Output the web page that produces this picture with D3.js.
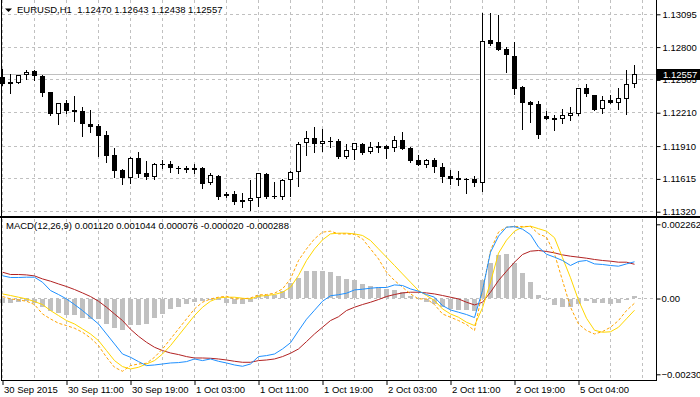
<!DOCTYPE html>
<html>
<head>
<meta charset="utf-8">
<script src="https://cdn.jsdelivr.net/npm/d3@7"></script>
<style>
  body { margin: 0; background: #fff; }
  svg { display: block; font-family: "Liberation Sans", Arial, sans-serif; font-size: 9.5px; }
</style>
</head>
<body>
<script>
// EURUSD H1 candles, one per hour
const opens  = [1.12531,1.12466,1.12480,1.12547,1.12585,1.12543,1.12394,1.12196,1.12298,1.12235,
  1.12226,1.12109,1.12091,1.12010,1.11830,1.11695,1.11626,1.11800,1.11666,1.11635,
  1.11747,1.11747,1.11715,1.11716,1.11693,1.11710,1.11576,1.11641,1.11459,1.11477,
  1.11426,1.11414,1.11441,1.11659,1.11462,1.11455,1.11603,1.11675,1.11935,1.11980,
  1.11926,1.11956,1.11956,1.11815,1.11872,1.11929,1.11854,1.11911,1.11911,1.11890,
  1.11965,1.11893,1.11785,1.11743,1.11785,1.11722,1.11641,1.11620,1.11612,1.11614,
  1.11576,1.12864,1.12843,1.12783,1.12720,1.12442,1.12307,1.12286,1.12183,1.12165,
  1.12151,1.12178,1.12201,1.12432,1.12373,1.12246,1.12325,1.12300,1.12336,1.12470];
const highs  = [1.12603,1.12558,1.12550,1.12592,1.12594,1.12552,1.12397,1.12300,1.12325,1.12361,
  1.12262,1.12235,1.12106,1.12046,1.11893,1.11707,1.11809,1.11857,1.11776,1.11761,
  1.11785,1.11776,1.11729,1.11731,1.11747,1.11725,1.11666,1.11648,1.11500,1.11507,
  1.11489,1.11605,1.11671,1.11666,1.11587,1.11617,1.11684,1.11944,1.12046,1.12079,
  1.12064,1.11995,1.11977,1.11926,1.11941,1.11935,1.11947,1.11947,1.11917,1.12001,
  1.12040,1.11899,1.11830,1.11797,1.11806,1.11756,1.11695,1.11686,1.11620,1.11641,
  1.13109,1.13109,1.13089,1.12798,1.12846,1.12448,1.12316,1.12316,1.12226,1.12187,
  1.12244,1.12262,1.12432,1.12468,1.12373,1.12361,1.12373,1.12432,1.12594,1.12643];
const lows   = [1.12459,1.12390,1.12477,1.12511,1.12500,1.12361,1.12194,1.12112,1.12210,1.12136,
  1.12004,1.12040,1.11824,1.11770,1.11635,1.11567,1.11576,1.11635,1.11614,1.11612,
  1.11716,1.11680,1.11671,1.11675,1.11666,1.11536,1.11570,1.11437,1.11450,1.11387,
  1.11360,1.11336,1.11372,1.11440,1.11441,1.11432,1.11462,1.11554,1.11833,1.11860,
  1.11869,1.11905,1.11806,1.11806,1.11792,1.11842,1.11851,1.11860,1.11806,1.11869,
  1.11881,1.11767,1.11743,1.11725,1.11677,1.11590,1.11567,1.11560,1.11491,1.11554,
  1.11509,1.12819,1.12774,1.12579,1.12381,1.12067,1.12127,1.11986,1.12151,1.12055,
  1.12118,1.12145,1.12190,1.12361,1.12237,1.12208,1.12295,1.12244,1.12202,1.12438];
const closes = [1.12468,1.12486,1.12547,1.12574,1.12536,1.12390,1.12196,1.12298,1.12228,1.12219,
  1.12112,1.12085,1.12004,1.11821,1.11689,1.11626,1.11803,1.11659,1.11635,1.11747,
  1.11746,1.11716,1.11713,1.11693,1.11716,1.11572,1.11648,1.11453,1.11480,1.11410,
  1.11410,1.11444,1.11666,1.11455,1.11453,1.11605,1.11675,1.11929,1.11980,1.11926,
  1.11956,1.11957,1.11815,1.11875,1.11935,1.11851,1.11902,1.11896,1.11887,1.11965,
  1.11887,1.11776,1.11743,1.11785,1.11725,1.11635,1.11614,1.11605,1.11611,1.11576,
  1.12858,1.12831,1.12777,1.12726,1.12426,1.12300,1.12282,1.12013,1.12157,1.12142,
  1.12187,1.12205,1.12432,1.12381,1.12237,1.12325,1.12300,1.12340,1.12466,1.12557];

// MACD window buffers
const macdMain = [0.000695,0.000641,0.000641,0.00065,0.00065,0.000497,0.000244,0.000122,-0.000012,-0.000183,
  -0.000366,-0.00057,-0.000775,-0.00108,-0.001385,-0.00169,-0.00179,-0.001922,-0.002044,-0.002025,
  -0.001995,-0.001964,-0.001952,-0.001922,-0.001842,-0.001891,-0.001842,-0.001912,-0.001964,-0.002025,
  -0.002065,-0.001995,-0.001769,-0.001739,-0.00169,-0.001537,-0.001348,-0.000982,-0.000631,-0.000357,
  -0.000082,0.000085,0.000116,0.000162,0.000262,0.000284,0.000314,0.000336,0.000336,0.000415,
  0.000397,0.000293,0.000223,0.000122,0.00004,-0.000214,-0.000348,-0.000418,-0.000488,-0.00058,
  0.000253,0.001412,0.0019,0.002175,0.00219,0.002114,0.001946,0.001565,0.001351,0.00126,
  0.001159,0.001007,0.001129,0.001159,0.001055,0.001037,0.001007,0.000985,0.001055,0.00112];
const macdSignal = [0.000802,0.000732,0.000732,0.00072,0.000689,0.000598,0.000528,0.000445,0.000366,0.000275,
  0.000171,0.000061,-0.000082,-0.000265,-0.00047,-0.000671,-0.000936,-0.00115,-0.001333,-0.001485,
  -0.001586,-0.001659,-0.001708,-0.001769,-0.001812,-0.001812,-0.001821,-0.001842,-0.001873,-0.001912,
  -0.001943,-0.001943,-0.001891,-0.001873,-0.001842,-0.001769,-0.001668,-0.001537,-0.001312,-0.00108,
  -0.000875,-0.000671,-0.000555,-0.000366,-0.000265,-0.000183,-0.000113,-0.000031,0.000061,0.000122,
  0.000171,0.000192,0.000192,0.000171,0.00014,0.000092,0.00004,-0.000012,-0.000113,-0.000195,
  -0.000113,0.000192,0.000549,0.000833,0.001107,0.001342,0.001443,0.001464,0.001434,0.001391,
  0.00133,0.00129,0.00126,0.001229,0.00119,0.001159,0.001138,0.001107,0.001107,0.001044];
const macdHist = [-0.000122,-0.000122,-0.000092,-0.000061,-0.000122,-0.000244,-0.000366,-0.000427,-0.000488,-0.000503,
  -0.00058,-0.00061,-0.000625,-0.000763,-0.000885,-0.000961,-0.000808,-0.000793,-0.000763,-0.00058,
  -0.000473,-0.00032,-0.000244,-0.000168,-0.000092,-0.000061,-0.000046,-0.000031,-0.000143,-0.000168,
  -0.000168,-0.000092,0.000122,0.000122,0.000122,0.000244,0.000458,0.000625,0.000824,0.000839,
  0.000839,0.000802,0.000686,0.000589,0.000558,0.000436,0.000375,0.000345,0.000293,0.000262,
  0.000192,0.00007,0.00002,-0.000113,-0.000165,-0.000265,-0.000317,-0.000348,-0.000348,-0.000366,
  0.000567,0.001077,0.001312,0.00136,0.001086,0.000772,0.000497,0.00011,-0.000046,-0.000195,
  -0.000265,-0.000265,-0.000165,-0.000061,-0.000134,-0.000134,-0.000165,-0.000134,-0.000043,0.000076];
const goldLine = [0.00014,0.000092,0.00004,-0.000012,-0.000092,-0.000183,-0.000366,-0.000519,-0.000671,-0.000775,
  -0.000927,-0.00108,-0.001281,-0.001586,-0.001891,-0.002074,-0.002147,-0.002095,-0.001995,-0.001891,
  -0.00169,-0.001434,-0.001129,-0.000824,-0.000519,-0.000265,-0.000082,0.000018,0.00004,0.00004,
  0.000009,-0.000012,0.00007,0.000092,0.000122,0.000192,0.000345,0.000702,0.001159,0.001513,
  0.001787,0.00197,0.001992,0.001992,0.00197,0.001922,0.001769,0.001513,0.00126,0.001007,
  0.00075,0.000497,0.000244,0.000092,-0.000061,-0.000317,-0.00047,-0.00057,-0.000723,-0.000824,
  -0.000281,0.000497,0.001382,0.001778,0.002053,0.002175,0.002205,0.002129,0.002053,0.001854,
  0.001244,0.000634,-0.000052,-0.000601,-0.000967,-0.001028,-0.001013,-0.000875,-0.000616,-0.000357];
const dashLine = [0.000061,-0.000012,-0.000043,-0.000082,-0.000183,-0.00047,-0.000622,-0.000753,-0.000824,-0.000906,
  -0.001028,-0.001202,-0.001434,-0.00179,-0.002095,-0.002217,-0.002044,-0.001995,-0.001973,-0.00179,
  -0.001537,-0.001232,-0.000927,-0.000622,-0.000317,-0.000113,-0.000012,0.00004,0.00007,-0.000012,
  -0.000012,0.000018,0.00011,0.000122,0.000162,0.000293,0.000598,0.001159,0.001513,0.001818,
  0.002022,0.002053,0.00197,0.00197,0.001952,0.001818,0.001513,0.001208,0.000802,0.000549,
  0.000345,0.00014,-0.000012,-0.000012,-0.000183,-0.00047,-0.00057,-0.000671,-0.000793,-0.000976,
  0.000244,0.001464,0.002022,0.002175,0.002196,0.002196,0.002196,0.00197,0.00187,0.00136,
  0.000549,-0.000265,-0.000775,-0.000976,-0.00108,-0.001007,-0.000875,-0.000671,-0.000366,-0.000143];
const macdHeaderVals = [0.001120, 0.001044, 0.000076, -0.000020, -0.000288];

const priceTicks = [1.13095, 1.12800, 1.12505, 1.12210, 1.11910, 1.11615, 1.11320];
const macdTicks = [0.002262, 0, -0.002309];
const timeIdx = [0, 8, 16, 24, 32, 40, 48, 56, 64, 72];
const timeLabels = ["30 Sep 2015", "30 Sep 11:00", "30 Sep 19:00", "1 Oct 03:00", "1 Oct 11:00",
  "1 Oct 19:00", "2 Oct 03:00", "2 Oct 11:00", "2 Oct 19:00", "5 Oct 04:00"];

const W = 700, H = 397;
const axisX = 656.5;
const gridCol = "#c0c0c0";

const svg = d3.select("body").append("svg").attr("width", W).attr("height", H);

// scales
const x = d3.scaleLinear().domain([0, 80]).range([2.5, 642.5]);
const yP = d3.scaleLinear().domain([1.11320, 1.13095]).range([211.7, 14.3]);
const yM = d3.scaleLinear().domain([-0.002309, 0.002262]).range([374.3, 224.3]);
const px = v => Math.floor(v) + 0.5;

// grid: vertical every 4 bars in both windows
const vg = svg.append("g").attr("stroke", gridCol).attr("stroke-dasharray", "3,3");
d3.range(0, 81, 4).forEach(i => {
  vg.append("line").attr("x1", x(i)).attr("x2", x(i)).attr("y1", 0).attr("y2", 215);
  vg.append("line").attr("x1", x(i)).attr("x2", x(i)).attr("y1", 219).attr("y2", 380);
});
priceTicks.forEach(t => {
  vg.append("line").attr("x1", 2).attr("x2", axisX).attr("y1", px(yP(t))).attr("y2", px(yP(t)));
});
vg.append("line").attr("x1", 2).attr("x2", axisX).attr("y1", px(yM(0))).attr("y2", px(yM(0)));

// current price line
const last = closes.length - 1;
svg.append("line").attr("x1", 2).attr("x2", axisX)
  .attr("y1", px(yP(closes[last]))).attr("y2", px(yP(closes[last])))
  .attr("stroke", gridCol);

// candles
const cg = svg.append("g");
closes.forEach((c, i) => {
  const o = opens[i], cx = x(i);
  cg.append("line").attr("x1", cx).attr("x2", cx)
    .attr("y1", Math.round(yP(highs[i]))).attr("y2", Math.round(yP(lows[i])) + 1)
    .attr("stroke", "#000");
  const top = Math.round(yP(Math.max(o, c))), bot = Math.round(yP(Math.min(o, c)));
  if (c > o && bot - top >= 2) {
    cg.append("rect").attr("x", cx - 2).attr("y", top + 0.5)
      .attr("width", 4).attr("height", bot - top - 1)
      .attr("fill", "#fff").attr("stroke", "#000");
  } else {
    cg.append("rect").attr("x", cx - 2.5).attr("y", top)
      .attr("width", 5).attr("height", Math.max(1, bot - top))
      .attr("fill", "#000");
  }
});

// MACD histogram
const z = Math.floor(yM(0));
svg.append("g").selectAll("rect").data(macdHist).join("rect")
  .attr("x", (d, i) => x(i) - 2.5)
  .attr("y", d => d >= 0 ? Math.round(yM(d)) : z + 1)
  .attr("width", 5)
  .attr("height", d => Math.max(1, Math.abs(Math.round(yM(d)) - (d >= 0 ? z : z + 1))))
  .attr("fill", "#c0c0c0");

// MACD lines
const line = d3.line().x((d, i) => x(i)).y(d => yM(d));
[[macdSignal, "#b22222", null], [goldLine, "#ffd700", null], [dashLine, "#ffa500", "3,2"], [macdMain, "#1e90ff", null]]
  .forEach(([data, col, dash]) => {
    svg.append("path").datum(data).attr("d", line)
      .attr("fill", "none").attr("stroke", col).attr("stroke-width", 1)
      .attr("stroke-dasharray", dash);
  });

// frames
const fr = svg.append("g").attr("stroke", "#000").attr("shape-rendering", "crispEdges");
fr.append("line").attr("x1", 1.5).attr("x2", 1.5).attr("y1", 0).attr("y2", 380);
fr.append("line").attr("x1", axisX).attr("x2", axisX).attr("y1", 0).attr("y2", 381);
fr.append("rect").attr("x", 0).attr("y", 216).attr("width", W).attr("height", 2).attr("stroke", "none").attr("fill", "#000");
fr.append("line").attr("x1", 1).attr("x2", axisX).attr("y1", 380.5).attr("y2", 380.5);

// price axis
const pAxis = svg.append("g").attr("transform", `translate(${axisX},0)`)
  .call(d3.axisRight(yP).tickValues(priceTicks).tickFormat(d3.format(".5f")).tickSize(4).tickSizeOuter(0).tickPadding(2));
const mAxis = svg.append("g").attr("transform", `translate(${axisX},0)`)
  .call(d3.axisRight(yM).tickValues(macdTicks).tickFormat(d => d === 0 ? "0.00" : d3.format(".6f")(d)).tickSize(4).tickSizeOuter(0).tickPadding(1));
const tAxis = svg.append("g").attr("transform", "translate(0,380)")
  .call(d3.axisBottom(x).tickValues(timeIdx).tickFormat((d, k) => timeLabels[k]).tickSize(5).tickSizeOuter(0).tickPadding(1));
[pAxis, mAxis, tAxis].forEach(a => {
  a.select(".domain").remove();
  a.selectAll("line").attr("stroke", "#000");
  a.selectAll("text").attr("fill", "#000").style("font-size", "9.5px").style("font-family", "'Liberation Sans', Arial, sans-serif");
});
tAxis.selectAll("text").attr("x", 1).style("text-anchor", "start");

// current price tag
const yc = Math.round(yP(closes[last]));
svg.append("rect").attr("x", 657).attr("y", yc - 5).attr("width", 43).attr("height", 11).attr("fill", "#000");
svg.append("text").attr("x", 663).attr("y", yc + 4).attr("fill", "#fff").text(d3.format(".5f")(closes[last]));

// headers
svg.append("path").attr("d", "M5,8.5 L12,8.5 L8.5,12 Z").attr("fill", "#000");
svg.append("text").attr("x", 17).attr("y", 13).attr("fill", "#000").style("white-space", "pre")
  .text("EURUSD,H1  " + [opens[last], highs[last], lows[last], closes[last]].map(d3.format(".5f")).join(" "));
svg.append("text").attr("x", 6).attr("y", 229).attr("fill", "#000")
  .text("MACD(12,26,9) " + macdHeaderVals.map(d3.format(".6f")).join(" ").replace(/−/g, "-"));
</script>
</body>
</html>
